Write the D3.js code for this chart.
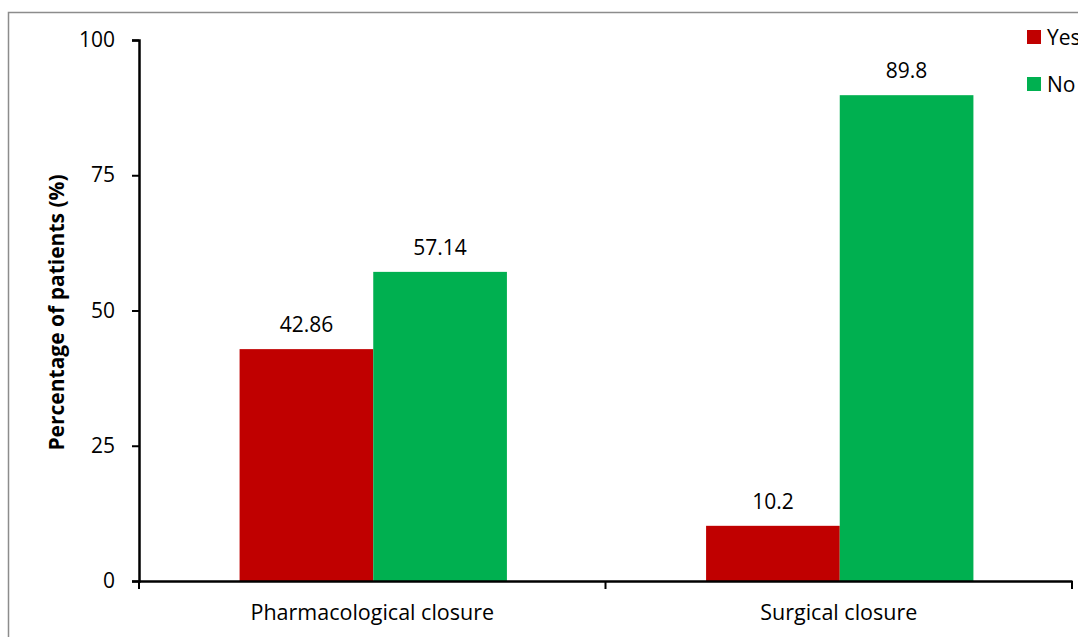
<!DOCTYPE html>
<html>
<head>
<meta charset="utf-8">
<script src="https://cdn.jsdelivr.net/npm/d3@7"></script>
<style>
  html, body { margin: 0; padding: 0; background: #fff; }
  svg { display: block; font-family: "Open Sans", Lato, sans-serif; }
</style>
</head>
<body>
<svg id="chart" width="1078" height="637"></svg>
<script>
// Closure outcome by treatment type
const categories = ["Pharmacological closure", "Surgical closure"];
const seriesNames = ["Yes", "No"];
const yesValues = [42.86, 10.2];
const noValues = [57.14, 89.8];
const yTicks = [0, 25, 50, 75, 100];
const seriesColors = ["#c00000", "#00b050"];

const FONT = "'Open Sans', Lato, sans-serif";
const FS = 21;
const svg = d3.select("#chart");
const W = 1078, H = 637;
const m = { left: 139, right: 6, top: 40, bottom: 56 };

// outer frame
svg.append("rect")
  .attr("x", 8.5).attr("y", 12.5)
  .attr("width", W + 20).attr("height", H + 20)
  .attr("fill", "none").attr("stroke", "#8c8c8c").attr("stroke-width", 1.5);

const x0 = d3.scaleBand().domain(categories).range([m.left, W - m.right]).padding(0);
const x1 = d3.scaleBand().domain(seriesNames).range([0, x0.bandwidth()])
  .paddingInner(0).paddingOuter(0.745);
const y = d3.scaleLinear().domain([0, 100]).range([H - m.bottom, m.top]);

const rows = categories.map((c, i) => ({ cat: c, vals: [yesValues[i], noValues[i]] }));

// bars
const groups = svg.append("g").selectAll("g").data(rows).join("g")
  .attr("transform", d => `translate(${x0(d.cat) + 1},0)`);
groups.selectAll("rect")
  .data(d => d.vals.map((v, j) => ({ key: seriesNames[j], v, j })))
  .join("rect")
  .attr("x", d => x1(d.key))
  .attr("y", d => y(d.v))
  .attr("width", x1.bandwidth())
  .attr("height", d => y(0) - y(d.v))
  .attr("fill", d => seriesColors[d.j]);

// value labels
groups.selectAll("text")
  .data(d => d.vals.map((v, j) => ({ key: seriesNames[j], v })))
  .join("text")
  .attr("x", d => x1(d.key) + x1.bandwidth() / 2)
  .attr("y", d => y(d.v) - 17)
  .attr("text-anchor", "middle")
  .attr("font-size", FS)
  .attr("fill", "#000")
  .text(d => String(d.v));

// y axis
const yAxis = svg.append("g")
  .attr("transform", `translate(${m.left},0)`)
  .call(d3.axisLeft(y).tickValues(yTicks).tickSize(7).tickPadding(17));
yAxis.select(".domain").attr("stroke", "#000").attr("stroke-width", 2.5);
yAxis.selectAll(".tick line").attr("stroke", "#000").attr("stroke-width", 2);
yAxis.selectAll(".tick text").attr("font-size", FS).attr("fill", "#000")
  .attr("font-family", FONT);

// x axis
const xAxis = svg.append("g")
  .attr("transform", `translate(0,${y(0)})`)
  .call(d3.axisBottom(x0).tickSize(0).tickPadding(24));
xAxis.select(".domain").attr("stroke", "#000").attr("stroke-width", 2.5);
xAxis.selectAll(".tick text").attr("font-size", FS + 0.5).attr("fill", "#000")
  .attr("font-family", FONT);
// category separators below the axis
const sepX = [x0.range()[0], ...categories.slice(1).map(c => x0(c)), x0.range()[1]];
xAxis.selectAll("line.sep").data(sepX).join("line")
  .attr("class", "sep")
  .attr("x1", d => d).attr("x2", d => d)
  .attr("y1", 0).attr("y2", 8)
  .attr("stroke", "#000").attr("stroke-width", 2);

// y axis title
svg.append("text")
  .attr("transform", `translate(64,${(y(0) + y(100)) / 2 + 2}) rotate(-90)`)
  .attr("text-anchor", "middle")
  .attr("font-size", FS)
  .attr("font-weight", "bold")
  .text("Percentage of patients (%)");

// legend (runs past the right edge of the frame, as in the original layout)
const legend = svg.append("g").selectAll("g").data(seriesNames).join("g")
  .attr("transform", (d, i) => `translate(1027,${30 + i * 47})`);
legend.append("rect").attr("width", 14).attr("height", 14)
  .attr("fill", (d, i) => seriesColors[i]);
legend.append("text").attr("x", 20).attr("y", 15)
  .attr("font-size", FS).text(d => d);
</script>
</body>
</html>
